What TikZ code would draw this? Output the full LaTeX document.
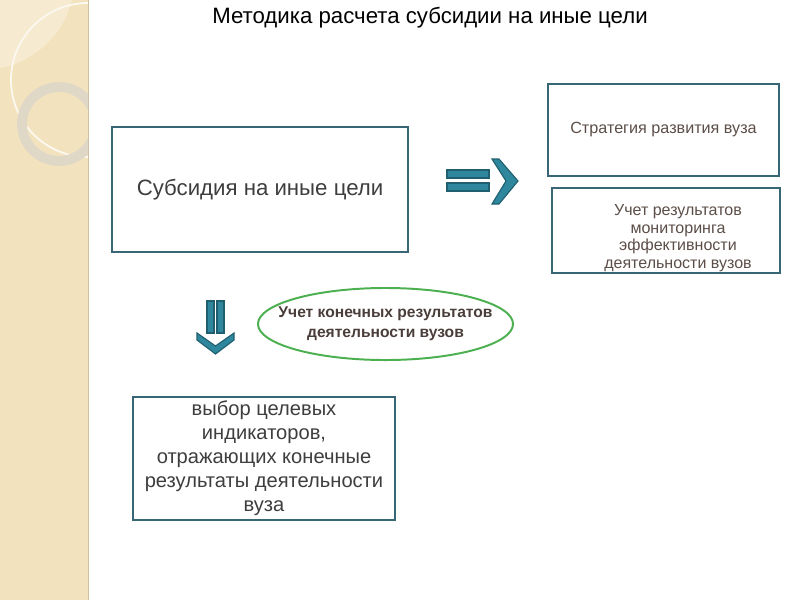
\documentclass[tikz,border=0pt]{standalone}
\usepackage{fontspec}
\setmainfont{Liberation Sans}
\usepackage{tikz}
\usetikzlibrary{positioning,shapes.geometric}
\definecolor{stripbg}{RGB}{242,227,190}
\definecolor{striplight}{RGB}{246,235,208}
\definecolor{ringgray}{RGB}{224,216,198}
\definecolor{boxline}{RGB}{55,102,116}
\definecolor{arrfill}{RGB}{47,135,157}
\definecolor{arrline}{RGB}{32,95,112}
\definecolor{txtgray}{RGB}{62,62,62}
\definecolor{txtbrown}{RGB}{92,78,72}
\definecolor{ellgreen}{RGB}{76,176,80}
\tikzset{tbox/.style={draw=boxline, line width=1.5pt, fill=white, align=center, text=txtgray, inner sep=4pt}}
\tikzset{rbox/.style={tbox, text=txtbrown, font=\fontsize{11.5pt}{13pt}\selectfont}}
\tikzset{goalell/.style={ellipse, draw=ellgreen, line width=1.4pt, inner sep=0pt}}
\tikzset{goaltext/.style={align=center, text=txtbrown!80!black, font=\bfseries\fontsize{11.1pt}{14pt}\selectfont}}
\tikzset{blockarr/.style={fill=arrfill, draw=arrline, line width=0.8pt, line join=miter}}
\begin{document}
\begin{tikzpicture}[x=0.025cm, y=-0.025cm]
                \useasboundingbox (0,0) rectangle (800,600);
                % left strip
                \fill[stripbg] (0,0) rectangle (88,600);
                \fill[striplight] (0,0) -- (72,0) .. controls (62,38) and (32,62) .. (0,68) -- cycle;
                \draw[stripbg!85!black, line width=0.6pt] (88,0) -- (88,600);
                \begin{scope}
                    \clip (0,0) rectangle (88,600);
                    \draw[white!75!stripbg, line width=1.3pt] (88,80) circle (77);
                    \draw[ringgray, line width=7pt] (59,124) circle (37);
                \end{scope}
                %
                \node[text=black, font=\fontsize{15.8pt}{18pt}\selectfont] (title) at (430,18)
                    {Методика расчета субсидии на иные цели};
                %
                \node[tbox, minimum width=7.4cm, minimum height=3.125cm,
                    font=\fontsize{15.8pt}{18pt}\selectfont] (subs) at (260,189.5)
                    {Субсидия на иные цели};
                \node[rbox, minimum width=5.775cm, minimum height=2.3cm] (strat) at (663.5,130)
                    {Стратегия развития вуза};
                \node[rbox, minimum width=5.7cm, minimum height=2.125cm] (monit) at (666,230.5) {};
                \node[text=txtbrown, align=center, font=\fontsize{11.4pt}{12.6pt}\selectfont] (monittxt) at (678,238)
                    {Учет результатов\\ мониторинга\\ эффективности\\ деятельности вузов};
                %
                \node[goalell, minimum width=6.375cm, minimum height=1.8cm] (goal) at (385.5,324) {};
                \node[goaltext] (goaltxt) at (goal.center)
                    {Учет конечных результатов\\ деятельности вузов};
                \node[tbox, minimum width=6.55cm, minimum height=3.075cm, inner sep=0pt,
                    font=\fontsize{14.3pt}{17pt}\selectfont] (choice) at (264,458.5)
                    {выбор целевых\\ индикаторов,\\ отражающих конечные\\ результаты деятельности\\ вуза};
                %
                % double arrow right
                \filldraw[blockarr] (447,170) rectangle (489,178);
                \filldraw[blockarr] (447,183) rectangle (489,191);
                \filldraw[blockarr] (492,159) -- (499,159) -- (518,181) -- (499,204) -- (492,204) -- (506,181) -- cycle;
                % double arrow down
                \filldraw[blockarr] (207,301) rectangle (214,333);
                \filldraw[blockarr] (217,301) rectangle (224,333);
                \filldraw[blockarr] (197,333) -- (197,340) -- (215.5,354) -- (234,340) -- (234,333) -- (215.5,346) -- cycle;
            \end{tikzpicture}
\end{document}
